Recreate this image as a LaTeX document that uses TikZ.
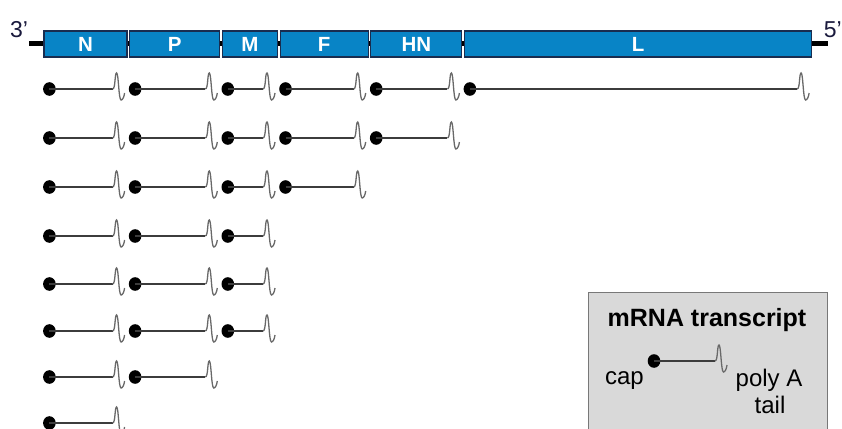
\documentclass[tikz,border=0pt]{standalone}
\usepackage{fontspec}
\setmainfont{Liberation Sans}
\usetikzlibrary{positioning}
\definecolor{genefill}{RGB}{8,132,198}
\definecolor{geneline}{RGB}{25,45,80}
\definecolor{primecol}{RGB}{25,25,60}
\definecolor{rnagrey}{RGB}{60,60,60}
\definecolor{tailgrey}{RGB}{105,105,105}
\definecolor{legendfill}{RGB}{217,217,217}
\definecolor{legendline}{RGB}{120,120,120}

\begin{document}
\begin{tikzpicture}[x=1pt,y=-1pt,node distance=1.5pt,
    gene/.style={draw=geneline,line width=1.2pt,fill=genefill,text=white,minimum height=26pt,inner sep=0pt,font=\fontsize{20.5}{20.5}\selectfont\bfseries},
    backbone/.style={line width=5pt},
    rna/.style={draw=rnagrey,line width=1.2pt},
    capdot/.style={fill=black},
    legendtext/.style={inner sep=0pt,font=\fontsize{24}{24}\selectfont},
    pics/polya/.style={code={\draw[tailgrey,line width=1.3pt] (0,0) .. controls (3,0) and (2,-16) .. (4,-16) .. controls (6,-16) and (6,11) .. (8.5,11) .. controls (10,11) and (11.5,8) .. (12,4);}}]
  \useasboundingbox (0,0) rectangle (842,428);
  \clip (0,0) rectangle (842,428);

  % genome
  \coordinate (g3) at (29,44);
  \coordinate (g5) at (828,44);
  \draw[backbone] (g3) -- (g5);
  \node[gene,minimum width=83pt] (N) at (85.5,44) {N};
  \node[gene,minimum width=90pt,right=of N] (P) {P};
  \node[gene,minimum width=55pt,right=of P] (M) {M};
  \node[gene,minimum width=88pt,right=of M] (F) {F};
  \node[gene,minimum width=91pt,right=of F] (HN) {HN};
  \node[gene,minimum width=347pt,right=of HN] (L) {L};
  \node[font=\fontsize{23}{23}\selectfont,text=primecol] (end3) at (19,30) {3'};
  \node[font=\fontsize{23}{23}\selectfont,text=primecol,anchor=east,inner sep=0pt] (end5) at (842,30) {5'};

  % transcripts
  \foreach \g in {N,P,M,F,HN,L} {
    \coordinate (\g-s) at ([xshift=6pt]\g.west);
    \coordinate (\g-e) at ([xshift=-15pt]\g.east);
  }
  \foreach \y/\genes in {89/{N,P,M,F,HN,L},138/{N,P,M,F,HN},187/{N,P,M,F},236/{N,P,M},284/{N,P,M},331/{N,P,M},377/{N,P},423/{N}}
    \foreach \g in \genes {
      \fill[capdot] (\g-s |- 0,\y) circle[x radius=6.3pt,y radius=6.8pt];
      \draw[rna] (\g-s |- 0,\y) -- (\g-e |- 0,\y) pic{polya};
    }

  % legend
  \draw[draw=legendline,fill=legendfill,line width=1pt] (588,292) rectangle (827,440);
  \node[legendtext,font=\fontsize{25}{25}\selectfont\bfseries] (title) at (707,320) {mRNA transcript};
  \coordinate (lcap) at (654,361);
  \coordinate (ltail) at (715,361);
  \fill[capdot] (lcap) circle[x radius=6.3pt,y radius=6.8pt];
  \draw[rna] (lcap) -- (ltail) pic{polya};
  \node[legendtext,anchor=base east] (captext) at (644,384) {cap};
  \node[legendtext,anchor=base] (polytext) at (769,386) {poly A};
  \node[legendtext,anchor=base] (tailtext) at (770,413) {tail};
\end{tikzpicture}
\end{document}
